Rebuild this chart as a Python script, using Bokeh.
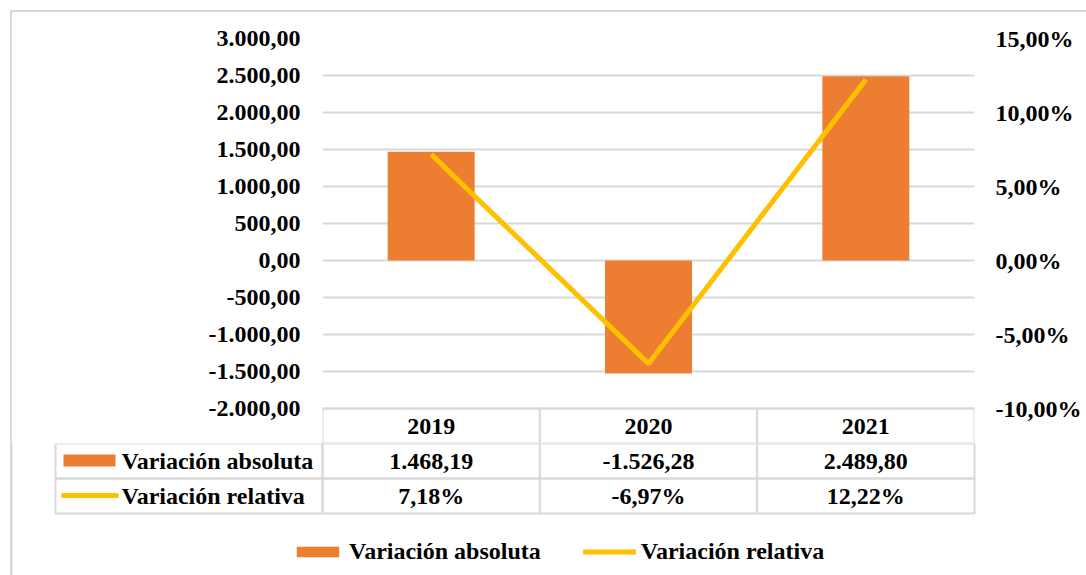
from bokeh.plotting import figure
from bokeh.layouts import column
from bokeh.models import (FactorRange, Range1d, LinearAxis, FixedTicker, Legend, LegendItem)
from bokeh.embed import file_html
from bokeh.resources import INLINE
from bokeh.core.properties import value

# ---------------- data ----------------
years = ["2019", "2020", "2021"]
var_abs = [1468.19, -1526.28, 2489.80]
var_rel = [7.18, -6.97, 12.22]
abs_ticks = [-2000, -1500, -1000, -500, 0, 500, 1000, 1500, 2000, 2500, 3000]
pct_ticks = [-10, -5, 0, 5, 10, 15]
series_names = ["Variación absoluta", "Variación relativa"]

def fmt_es(v, dec=2):
    s = f"{abs(v):,.{dec}f}".replace(",", "X").replace(".", ",").replace("X", ".")
    return ("-" if v < 0 else "") + s

def fmt_pct(v):
    return f"{v:.2f}".replace(".", ",") + "%"

# ---------------- styling / geometry ----------------
FONT = "Liberation Serif"
FS = "24px"
ORANGE = "#ED7D31"
YELLOW = "#FFC000"
GRID = "#D9D9D9"

W = 1086
FRAME_L, FRAME_R, FRAME_T = 322, 974, 38
TOP_H = 443                      # top figure height (ends under table header row)
BOT_H = 575 - TOP_H
frame_w = FRAME_R - FRAME_L
frame_h = TOP_H - FRAME_T
px_per_unit = 37 / 500.0
y_top = 3000.0
y_bot = y_top - frame_h / px_per_unit
pct_per_px = 5 / 74.0
p_top = 15.0
p_bot = p_top - frame_h * pct_per_px
xpx = frame_w / len(years)

def dx(page_x):   # page x -> synthetic categorical coordinate
    return (page_x - FRAME_L) / xpx

def label_style(ax, standoff):
    ax.axis_line_color = None
    ax.major_tick_line_color = None
    ax.minor_tick_line_color = None
    ax.major_label_standoff = standoff
    ax.major_label_text_font = FONT
    ax.major_label_text_font_style = "bold"
    ax.major_label_text_font_size = FS
    ax.major_label_text_color = "black"

# ================= top figure: chart + header row =================
p = figure(x_range=FactorRange(*years, range_padding=0), y_range=Range1d(y_bot, y_top),
           width=W, height=TOP_H, min_border_left=FRAME_L, min_border_right=W - FRAME_R,
           min_border_top=FRAME_T, min_border_bottom=0,
           output_backend="svg", toolbar_location=None)
p.outline_line_color = None
p.border_fill_alpha = 0
p.xaxis.visible = False
p.xgrid.visible = False

ya = p.yaxis[0]
ya.ticker = FixedTicker(ticks=abs_ticks)
ya.major_label_overrides = {t: fmt_es(t) for t in abs_ticks}
label_style(ya, 16)

p.ygrid.ticker = FixedTicker(ticks=abs_ticks)
p.ygrid.grid_line_color = GRID
p.ygrid.grid_line_width = 2

p.extra_y_ranges = {"pct": Range1d(p_bot, p_top)}
ra = LinearAxis(y_range_name="pct", ticker=FixedTicker(ticks=pct_ticks))
ra.major_label_overrides = {t: fmt_pct(t) for t in pct_ticks}
label_style(ra, 15)
p.add_layout(ra, "right")

p.vbar(x=years, top=var_abs, bottom=0, width=0.4, color=ORANGE, line_color=None)
p.line(x=years, y=var_rel, y_range_name="pct", line_color=YELLOW, line_width=5)

hdr_c = (abs_ticks[0] + y_bot) / 2
p.rect(x=years, y=[hdr_c] * len(years), width=1, height=abs_ticks[0] - y_bot,
       fill_alpha=0, line_color=GRID, line_width=2)
p.text(x=years, y=[hdr_c] * len(years), text=years, text_font=value(FONT),
       text_font_style="bold", text_font_size=FS, text_align="center",
       text_baseline="middle", text_color="black")

# ================= bottom figure: table rows + legend =================
q = figure(x_range=Range1d(dx(0), dx(W)), y_range=Range1d(575, TOP_H),
           width=W, height=BOT_H, min_border=0, min_border_left=0, min_border_right=0,
           min_border_top=0, min_border_bottom=0,
           output_backend="svg", toolbar_location=None)
q.axis.visible = False
q.grid.visible = False
q.outline_line_color = None
q.background_fill_alpha = 0
q.border_fill_alpha = 0

xs = [i + 0.5 for i in range(len(years))]
row_edges = [443, 478, 513]
row_c = [(row_edges[i] + row_edges[i + 1]) / 2 for i in range(2)]
row_h = row_edges[1] - row_edges[0]
key_l = dx(55)

for rc in row_c:
    q.rect(x=xs, y=[rc] * len(xs), width=1, height=row_h, fill_alpha=0,
           line_color=GRID, line_width=2)
    q.rect(x=[key_l / 2], y=[rc], width=-key_l, height=row_h, fill_alpha=0,
           line_color=GRID, line_width=2)

rows_text = [[fmt_es(v) for v in var_abs], [fmt_pct(v) for v in var_rel]]
for rc, labels in zip(row_c, rows_text):
    q.text(x=xs, y=[rc] * len(xs), text=labels, text_font=value(FONT),
           text_font_style="bold", text_font_size=FS, text_align="center",
           text_baseline="middle", text_color="black")
q.text(x=[dx(121)] * 2, y=row_c, text=series_names, text_font=value(FONT),
       text_font_style="bold", text_font_size=FS, text_align="left",
       text_baseline="middle", text_color="black")

# legend keys inside the table
key_bar = q.rect(x=[(dx(63) + dx(115)) / 2], y=[460], width=dx(115) - dx(63), height=12,
                 height_units="screen", fill_color=ORANGE, line_color=None)
key_line = q.line(x=[dx(63), dx(116)], y=[495, 495], line_color=YELLOW, line_width=5,
                  line_cap="round")

# left part of outer border
q.segment(x0=[dx(11)], y0=[TOP_H], x1=[dx(11)], y1=[600], line_color=GRID, line_width=2)

legend = Legend(items=[LegendItem(label=series_names[0], renderers=[key_bar]),
                       LegendItem(label=series_names[1], renderers=[key_line])],
                orientation="horizontal", location=(291, 10), margin=0, padding=0,
                glyph_width=53, glyph_height=13, label_height=28, label_standoff=5, spacing=42,
                label_text_font=FONT, label_text_font_style="bold", label_text_font_size=FS,
                label_text_color="black", border_line_color=None, background_fill_alpha=0)
q.add_layout(legend, "center")

border_css = ("linear-gradient(#D9D9D9,#D9D9D9) 10px 10px / 2px 100% no-repeat, "
              "linear-gradient(#D9D9D9,#D9D9D9) 10px 10px / 100% 2px no-repeat, #ffffff")
layout = column(column(p), column(q), spacing=0, styles={"background": border_css})

open("out.html", "w").write(file_html(layout, INLINE))
